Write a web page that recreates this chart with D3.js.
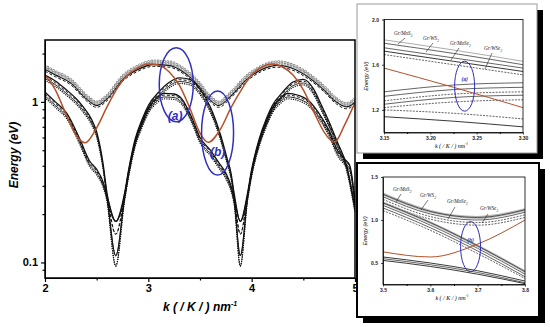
<!DOCTYPE html>
<html>
<head>
<meta charset="utf-8">
<script src="https://cdn.jsdelivr.net/npm/d3@7"></script>
<style>body{margin:0;background:#fff}svg{display:block}</style>
</head>
<body>
<div id="chart"></div>
<script>
// ---- main panel: E (eV, log) vs k ----
const kTicks = [2, 3, 4, 5];
const kMinor = [2.5, 3.5, 4.5];
const eTicks = [0.1, 1];

// red curve
const redK = [2.0,2.1,2.2,2.3,2.39,2.5,2.6,2.7,2.8,2.9,3.0,3.1,3.2,3.3,3.4,3.5,3.58,3.7,3.8,3.9,4.0,4.1,4.2,4.3,4.4,4.5,4.6,4.7,4.8,4.9,5.0];
const redE = [1.47,1.19,0.85,0.62,0.556,0.69,0.93,1.22,1.47,1.63,1.72,1.70,1.54,1.27,0.92,0.64,0.56,0.68,0.92,1.19,1.47,1.65,1.72,1.65,1.47,1.19,0.87,0.65,0.56,0.72,0.99];

// upper family (open circles)
const circK = [2.0,2.1,2.25,2.4,2.5,2.6,2.75,2.9,3.05,3.2,3.35,3.5,3.6,3.68,3.8,3.95,4.1,4.25,4.4,4.55,4.7,4.82,4.92,5.0];
const circE = [1.68,1.55,1.38,1.1,1.0,1.1,1.45,1.68,1.8,1.78,1.6,1.3,1.08,1.0,1.15,1.45,1.68,1.78,1.7,1.5,1.25,1.05,0.98,1.05];

// black branch A (upper)
const aK = [2.0,2.1,2.2,2.3,2.37,2.45,2.5,2.56,2.6,2.77,2.81,2.87,2.94,3.0,3.1,3.2,3.3,3.4,3.5,3.6,3.7,3.76,3.8,3.83,3.96,4.0,4.07,4.14,4.2,4.3,4.4,4.5,4.6,4.67,4.75,4.83,4.92,5.0];
const aE = [1.47,1.35,1.2,1.05,0.93,0.78,0.65,0.42,0.27,0.27,0.38,0.58,0.78,0.95,1.15,1.32,1.41,1.38,1.2,0.93,0.62,0.45,0.36,0.27,0.27,0.38,0.58,0.78,0.95,1.15,1.33,1.38,1.2,0.97,0.75,0.56,0.4,0.22];

// black branch B (lower, with shoulder)
const bK = [2.0,2.1,2.21,2.34,2.43,2.5,2.56,2.6,2.77,2.81,2.87,2.94,3.0,3.08,3.15,3.25,3.32,3.42,3.5,3.6,3.68,3.75,3.8,3.83,3.96,4.0,4.07,4.14,4.2,4.28,4.35,4.45,4.55,4.65,4.75,4.83,4.9,4.95,5.0];
const bE = [1.15,1.0,0.85,0.58,0.43,0.38,0.32,0.26,0.26,0.37,0.56,0.75,0.92,1.06,1.13,1.12,1.05,0.8,0.6,0.5,0.42,0.36,0.3,0.25,0.26,0.37,0.56,0.75,0.92,1.06,1.13,1.1,1.02,0.85,0.66,0.5,0.44,0.4,0.24];

// the deep minima and their floor for each of the four materials
const dipK = [2.685, 3.89];
const dipFloor = [0.18, 0.15, 0.11, 0.095];
const materialGap = [1, 0.975, 0.95, 0.925];

// ---- inset (a): k 3.15..3.30, E 1..2 ----
const insAK = [3.15, 3.225, 3.30];
const insAUpper = [[1.82,1.73,1.63],[1.79,1.70,1.60],[1.75,1.66,1.57],[1.72,1.63,1.54],[1.69,1.60,1.51]];
const insAMiddle = [[1.36,1.42,1.44],[1.32,1.38,1.40],[1.28,1.34,1.36],[1.25,1.31,1.33],[1.22,1.27,1.29]];
const insALower = [[1.20,1.17,1.12],[1.14,1.10,1.05]];
const insARed = [1.57,1.40,1.22];

// ---- inset (b): k 3.5..3.8, E 0.25..1.5 ----
const insBK = [3.5, 3.6, 3.7, 3.8];
const insBUpper = [[1.30,1.10,1.03,1.12],[1.27,1.07,1.00,1.09],[1.24,1.04,0.97,1.06],[1.21,1.01,0.94,1.03]];
const insBMiddle = [[1.20,0.97,0.70,0.40],[1.17,0.94,0.67,0.37],[1.14,0.91,0.64,0.34],[1.11,0.88,0.61,0.32]];
const insBLower = [[0.57,0.50,0.41,0.29],[0.55,0.48,0.39,0.27],[0.53,0.46,0.37,0.26]];
const insBRed = [0.63,0.57,0.72,1.00];

const materials = ['Gr/MoS', 'Gr/WS', 'Gr/MoSe', 'Gr/WSe'];

const RED = '#b4502a', BLUE = '#2f2fc0';

const svg = d3.select('#chart').append('svg')
  .attr('width', 550).attr('height', 327)
  .style('font-family', 'Arial, "Liberation Sans", sans-serif');

// ===== main plot =====
const m = {left: 45, right: 355, top: 40, bottom: 278};
const x = d3.scaleLinear().domain([2, 5]).range([m.left, m.right]);
const y = d3.scaleLog().domain([0.08, 2.43]).range([m.bottom, m.top]);

svg.append('clipPath').attr('id', 'clipMain').append('rect')
  .attr('x', m.left).attr('y', m.top).attr('width', m.right - m.left).attr('height', m.bottom - m.top);

const gMain = svg.append('g').attr('clip-path', 'url(#clipMain)');
const line = d3.line().x(d => x(d[0])).y(d => y(d[1])).curve(d3.curveMonotoneX);

function scaled(ks, es, i) { return ks.map((k, j) => [k, es[j] * materialGap[i]]); }
function withDip(ks, es, i) {
  const pts = scaled(ks, es, i);
  dipK.forEach(k => pts.push([k, dipFloor[i]]));
  return pts.sort((p, q) => p[0] - q[0]);
}

// open-circle markers drawn as a round dotted stroke with a white core
function ringPath(g, d, lineFn) {
  g.append('path').attr('d', lineFn(d)).attr('fill', 'none').attr('stroke', '#8a8a8a')
    .attr('stroke-width', 2.8).attr('stroke-dasharray', '0 3.2').attr('stroke-linecap', 'round');
  g.append('path').attr('d', lineFn(d)).attr('fill', 'none').attr('stroke', '#fff')
    .attr('stroke-width', 1.2).attr('stroke-dasharray', '0 3.2').attr('stroke-linecap', 'round');
}

const blackStyle = [
  {w: 1.3, dash: null, cap: 'butt'},
  {w: 1, dash: '3,2', cap: 'butt'},
  {w: 0.9, dash: null, cap: 'butt'},
  {w: 1.3, dash: '0.1,2.2', cap: 'round'}
];
function styled(g, d, s, lineFn) {
  g.append('path').attr('d', lineFn(d)).attr('fill', 'none').attr('stroke', '#111')
    .attr('stroke-width', s.w).attr('stroke-dasharray', s.dash).attr('stroke-linecap', s.cap);
}

// black branches
[0, 1, 2, 3].forEach(i => {
  styled(gMain, withDip(aK, aE, i), blackStyle[i], line);
  styled(gMain, withDip(bK, bE, i), blackStyle[i], line);
});
// upper circle family
styled(gMain, scaled(circK, circE, 3), blackStyle[1], line);
styled(gMain, scaled(circK, circE, 2), blackStyle[0], line);
ringPath(gMain, scaled(circK, circE, 1), line);
ringPath(gMain, scaled(circK, circE, 0), line);

// red curve
gMain.append('path').attr('d', line(redK.map((k, i) => [k, redE[i]])))
  .attr('fill', 'none').attr('stroke', RED).attr('stroke-width', 1.5);

// frame + axes
svg.append('rect').attr('x', m.left).attr('y', m.top).attr('width', m.right - m.left).attr('height', m.bottom - m.top)
  .attr('fill', 'none').attr('stroke', '#000').attr('stroke-width', 1.5);

const xAxis = svg.append('g').attr('transform', `translate(0,${m.bottom})`)
  .call(d3.axisBottom(x).tickValues(kTicks).tickFormat(d3.format('d')).tickSize(4).tickSizeOuter(0));
svg.append('g').attr('transform', `translate(0,${m.bottom})`)
  .call(d3.axisBottom(x).tickValues(kMinor).tickFormat('').tickSize(2.5).tickSizeOuter(0))
  .select('.domain').remove();
const minorE = [0.09, 0.2, 0.3, 0.4, 0.5, 0.6, 0.7, 0.8, 0.9, 2];
const yAxis = svg.append('g').attr('transform', `translate(${m.left},0)`)
  .call(d3.axisLeft(y).tickValues(eTicks).tickFormat(d => d === 1 ? '1' : '0.1').tickSize(4).tickSizeOuter(0));
svg.append('g').attr('transform', `translate(${m.left},0)`)
  .call(d3.axisLeft(y).tickValues(minorE).tickFormat('').tickSize(2.5).tickSizeOuter(0))
  .select('.domain').remove();
svg.selectAll('.tick line').attr('stroke-width', 1.2);
[xAxis, yAxis].forEach(a => a.selectAll('text').attr('font-size', 11).attr('font-weight', 'bold')
  .attr('font-family', 'Arial, "Liberation Sans", sans-serif').attr('fill', '#000'));
xAxis.selectAll('text').attr('dy', '0.6em');

svg.append('text').attr('transform', 'translate(18,155) rotate(-90)').attr('text-anchor', 'middle')
  .attr('font-size', 12).attr('font-style', 'italic').attr('font-weight', 'bold').text('Energy (eV)');
const xl = svg.append('text').attr('x', 200).attr('y', 311).attr('text-anchor', 'middle')
  .attr('font-size', 12).attr('font-style', 'italic').attr('font-weight', 'bold');
xl.append('tspan').text('k ( / K / ) nm');
xl.append('tspan').attr('dy', -5).attr('font-size', 7).text('-1');

// ellipses (a), (b)
const marks = [{k: 3.27, e: 1.28, rx: 17, ry: 37, lab: '(a)', lk: 3.26, le: 0.82},
               {k: 3.67, e: 0.64, rx: 16, ry: 42, lab: '(b)', lk: 3.67, le: 0.49}];
marks.forEach(d => {
  svg.append('ellipse').attr('cx', x(d.k)).attr('cy', y(d.e)).attr('rx', d.rx).attr('ry', d.ry)
    .attr('fill', 'none').attr('stroke', BLUE).attr('stroke-width', 1.5);
  svg.append('text').attr('x', x(d.lk)).attr('y', y(d.le)).attr('dy', '0.35em').attr('text-anchor', 'middle')
    .attr('fill', BLUE).attr('font-size', 12).attr('font-style', 'italic').attr('font-weight', 'bold').text(d.lab);
});

// ===== insets =====
function drawInset(o) {
  // shadow + frame
  svg.append('rect').attr('x', o.frame[0] + 6).attr('y', o.frame[1] + 6)
    .attr('width', o.frame[2] - o.frame[0]).attr('height', o.frame[3] - o.frame[1]).attr('fill', '#000');
  svg.append('rect').attr('x', o.frame[0]).attr('y', o.frame[1])
    .attr('width', o.frame[2] - o.frame[0]).attr('height', o.frame[3] - o.frame[1])
    .attr('fill', '#fff').attr('stroke', o.frameColor).attr('stroke-width', o.frameWidth);

  const [l, t, r, b] = o.plot;
  const ix = d3.scaleLinear().domain(o.xDomain).range([l, r]);
  const iy = d3.scaleLinear().domain(o.yDomain).range([b, t]);
  const g = svg.append('g');
  const il = d3.line().x(d => ix(d[0])).y(d => iy(d[1])).curve(d3.curveMonotoneX);
  const pts = row => o.k.map((k, j) => [k, row[j]]);

  o.groups.forEach(grp => grp.rows.forEach((row, i) => {
    const s = grp.styles[i % grp.styles.length];
    if (s.band) g.append('path').attr('d', il(pts(row))).attr('fill', 'none')
      .attr('stroke', '#b8b8b8').attr('stroke-width', s.band);
    g.append('path').attr('d', il(pts(row))).attr('fill', 'none').attr('stroke', s.c || '#222')
      .attr('stroke-width', s.w || 0.7).attr('stroke-dasharray', s.dash || null);
  }));
  g.append('path').attr('d', il(pts(o.red))).attr('fill', 'none').attr('stroke', RED).attr('stroke-width', 1);

  svg.append('rect').attr('x', l).attr('y', t).attr('width', r - l).attr('height', b - t)
    .attr('fill', 'none').attr('stroke', '#000').attr('stroke-width', 0.8);
  const ax = svg.append('g').attr('transform', `translate(0,${b})`)
    .call(d3.axisBottom(ix).tickValues(o.xTicks).tickFormat(d3.format(o.xFmt)).tickSize(2).tickSizeOuter(0));
  svg.append('g').attr('transform', `translate(0,${b})`)
    .call(d3.axisBottom(ix).tickValues(o.xMinor).tickFormat('').tickSize(1.5).tickSizeOuter(0))
    .select('.domain').remove();
  const ay = svg.append('g').attr('transform', `translate(${l},0)`)
    .call(d3.axisLeft(iy).tickValues(o.yTicks).tickFormat(d3.format('.1f')).tickSize(2).tickSizeOuter(0));
  [ax, ay].forEach(a => {
    a.selectAll('.domain').attr('stroke-width', 0.8);
    a.selectAll('.tick line').attr('stroke-width', 0.7);
    a.selectAll('text').attr('font-size', 5).attr('font-weight', 'bold').attr('fill', '#222');
  });
  ax.selectAll('text').attr('dy', '0.5em');

  svg.append('text').attr('transform', `translate(${l - 16},${(t + b) / 2}) rotate(-90)`)
    .attr('text-anchor', 'middle').attr('font-size', 5.5).attr('font-style', 'italic').text('Energy (eV)');
  const lab = svg.append('text').attr('x', (l + r) / 2 - 2).attr('y', b + 15).attr('text-anchor', 'middle')
    .attr('font-size', 6).attr('font-style', 'italic').attr('font-family', '"Liberation Serif", serif');
  lab.append('tspan').text('k ( / K / ) nm');
  lab.append('tspan').attr('dy', -2.5).attr('font-size', 3.5).text('-1');

  // material labels with leader lines
  o.labels.forEach((p, i) => {
    const tx = svg.append('text').attr('x', p[0]).attr('y', p[1]).attr('font-size', 5.2)
      .attr('font-style', 'italic').attr('font-family', '"Liberation Serif", serif').attr('fill', '#222');
    tx.append('tspan').text(materials[i]);
    tx.append('tspan').attr('dy', 1.5).attr('font-size', 3.5).text('2');
    svg.append('line').attr('x1', p[2]).attr('y1', p[3]).attr('x2', p[4]).attr('y2', p[5])
      .attr('stroke', '#222').attr('stroke-width', 0.6);
  });

  svg.append('ellipse').attr('cx', ix(o.ell[0])).attr('cy', iy(o.ell[1])).attr('rx', 10).attr('ry', 25)
    .attr('fill', 'none').attr('stroke', BLUE).attr('stroke-width', 1);
  svg.append('text').attr('x', ix(o.ell[0])).attr('y', iy(o.ell[1]) - 5).attr('text-anchor', 'middle')
    .attr('fill', BLUE).attr('font-size', 5).attr('font-style', 'italic').attr('font-weight', 'bold').text(o.tag);
}

drawInset({
  frame: [357, 4, 537, 153], frameColor: '#999', frameWidth: 1,
  plot: [384, 19.5, 523, 132.5],
  xDomain: [3.15, 3.30], yDomain: [1.0, 2.0],
  xTicks: [3.15, 3.20, 3.25, 3.30], xMinor: [3.175, 3.225, 3.275], xFmt: '.2f',
  yTicks: [1.2, 1.6, 2.0],
  k: insAK, red: insARed,
  groups: [
    {rows: insAUpper, styles: [{c: '#888'}, {}, {}, {w: 0.9}, {dash: '2,1.2'}]},
    {rows: insAMiddle, styles: [{}, {}, {dash: '2,1.2'}, {}, {dash: '2,1.2'}]},
    {rows: insALower, styles: [{dash: '2,1.2'}, {w: 0.9}]}
  ],
  labels: [[394, 35, 405, 38, 398, 44], [423, 40, 433, 43, 426, 52], [450, 45, 459, 48, 451, 60], [484, 50, 492, 53, 485, 69]],
  ell: [3.237, 1.41], tag: '(a)'
});

drawInset({
  frame: [357, 163, 539, 317], frameColor: '#000', frameWidth: 2,
  plot: [383, 177, 525, 284.5],
  xDomain: [3.5, 3.8], yDomain: [0.25, 1.5],
  xTicks: [3.5, 3.6, 3.7, 3.8], xMinor: [3.55, 3.65, 3.75], xFmt: '.1f',
  yTicks: [0.5, 1.0, 1.5],
  k: insBK, red: insBRed,
  groups: [
    {rows: insBUpper, styles: [{band: 3}, {}, {dash: '2,1.2'}, {dash: '2,1.2'}]},
    {rows: insBMiddle, styles: [{band: 2.5}, {}, {}, {dash: '2,1.2'}]},
    {rows: insBLower, styles: [{w: 0.9}, {}, {w: 0.9}]}
  ],
  labels: [[393, 191, 401, 194, 396, 202], [420, 197, 428, 200, 421, 210], [447, 203, 455, 207, 448, 219], [480, 210, 488, 214, 482, 223]],
  ell: [3.685, 0.69], tag: '(b)'
});
</script>
</body>
</html>
